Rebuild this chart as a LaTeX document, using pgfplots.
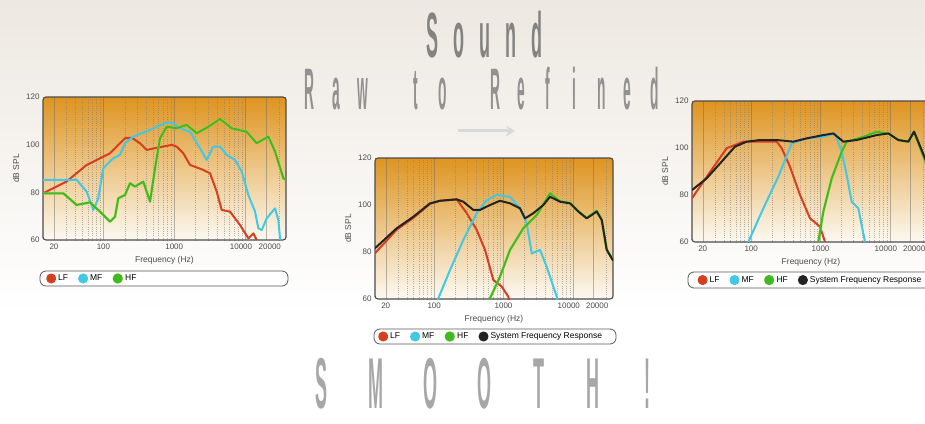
\documentclass[border=0pt]{standalone}
\usepackage{pgfplots}
\pgfplotsset{compat=1.18}
\usepackage{fontspec}
\setmainfont{Liberation Sans}
\usepackage{graphicx}
\usetikzlibrary{arrows.meta}

\definecolor{lfred}{RGB}{214,62,32}
\definecolor{mfcyan}{RGB}{64,200,228}
\definecolor{hfgreen}{RGB}{62,186,40}
\definecolor{sysblk}{RGB}{35,35,35}
\definecolor{bgtop}{RGB}{222,148,32}
\definecolor{bgmid}{RGB}{242,205,130}
\definecolor{bgbot}{RGB}{252,249,242}
\definecolor{paper}{RGB}{237,232,225}
\definecolor{ttl}{RGB}{145,145,145}

% letters on a fixed pitch, as in the poster lettering
\makeatletter
\newcommand\pitch[2]{\@tfor\lt@c:=#2\do{\makebox[#1]{\lt@c}}}
\makeatother
% nudge a tick label sideways
\newcommand\nudge[2]{\makebox[0pt]{\hspace*{#1}#2}}

\pgfplotsset{every axis/.append style={
    scale only axis,
    xmode=log, xmin=14, xmax=38000, ymin=60, ymax=120,
    xtick={20,100,1000,10000,20000},
    xticklabels={20,100,1000,\nudge{-8pt}{10000},\nudge{7pt}{20000}},
    minor xtick={30,40,50,60,70,80,90,200,300,400,500,600,700,800,900,
      2000,3000,4000,5000,6000,7000,8000,9000,30000},
    ytick={60,80,100,120},
    major tick length=0pt, minor tick length=0pt,
    xmajorgrids, xminorgrids,
    major grid style={black!60, thin, opacity=0.45},
    minor grid style={black!50, very thin, dotted, opacity=0.6},
    axis background/.style={top color=bgtop, middle color=bgmid, bottom color=bgbot},
    axis line style={draw=black!70, line width=1.1pt, rounded corners=3pt},
    tick label style={font=\fontsize{8}{9}\selectfont, text=black!70},
    /pgf/number format/assume math mode=true,
    xlabel={Frequency (Hz)}, ylabel={dB SPL},
    label style={font=\fontsize{8.5}{10}\selectfont, text=black!70},
    legend style={draw=none, fill=none, anchor=west,
      font=\fontsize{8.5}{10}\selectfont, legend columns=-1,
      /tikz/every even column/.append style={column sep=8pt}},
    legend image code/.code={\fill (3pt,0pt) circle (4pt);},
  },
  every axis plot/.append style={line width=2pt, line join=round},
}
\tikzset{hfline/.style={color=hfgreen, preaction={draw=yellow!70!hfgreen, line width=2.8pt, opacity=0.5}}}

\begin{document}
\begin{tikzpicture}[x=1pt,y=1pt]
\useasboundingbox (0,0) rectangle (925,423);
\clip (0,0) rectangle (925,423);
\shade[top color=paper, bottom color=white] (0,423) rectangle (925,110);
\fill[white] (0,0) rectangle (925,111);

% titles
\node[anchor=base, text=ttl!90!black] at (485,365)
  {\scalebox{0.45}[1.6]{\fontsize{40}{40}\selectfont\bfseries\pitch{57.8pt}{Sound}}};
\node[anchor=base, text=ttl] at (482,313)
  {\scalebox{0.46}[1.95]{\fontsize{30}{30}\selectfont\bfseries\pitch{57.6pt}{Raw{\ }to{\ }Refined}}};
\node[anchor=base, inner sep=0pt, text=ttl!80!white] at (484.5,15)
  {\scalebox{0.45}[1.8]{\fontsize{40}{40}\selectfont\bfseries\pitch{121pt}{SMOOTH!}}};
\draw[line width=3pt, white!85!black, -{Stealth[length=9pt,width=11pt]}] (458,292) -- (515,292);

% legend frames
\draw[black!65, line width=0.8pt, fill=white, rounded corners=6pt] (40,137) rectangle (288,152);
\draw[black!65, line width=0.8pt, fill=white, rounded corners=6pt] (374,79) rectangle (616,94);
\draw[black!65, line width=0.8pt, fill=white, rounded corners=6pt] (688,135) rectangle (935,151);

% raw drivers
\begin{axis}[at={(43pt,183pt)}, anchor=south west, width=243pt, height=143pt,
    legend style={at={(0.0,-0.269)}}]
\addplot[color=lfred] coordinates {(14,79.6) (30,84.5) (58,91.5) (124,96.4) (202,102.7)
  (251,102.9) (329,100.6) (409,97.8) (566,98.7) (922,99.9) (1086,99.2) (1345,96.4)
  (1673,91.5) (2579,89.4) (3208,88) (3990,80.3) (4693,72.6) (6149,71.9) (8513,66.3)
  (11155,60.7) (13130,62.8) (14660,60) (15500,58)};
\addplot[color=mfcyan] coordinates {(14,85.2) (41.9,85.2) (58,80.3) (71.9,72.6) (84.6,77.5)
  (99.6,90.1) (137.9,94.3) (171.5,95.7) (201.8,100.6) (264.4,103.4) (455.3,106.2)
  (784,109.4) (971,109) (1208,106.9) (1673,105.4) (2317,98.5) (2881,93.6) (3572,99.2)
  (4441,99.2) (5523,95.7) (7236,93.6) (9001,88.7) (11155,78.9) (13875,71.9) (15445,64.9)
  (17250,64.2) (20300,69.1) (26590,73.3) (29610,68.4) (31290,60.7) (31800,58)};
\addplot[hfline] coordinates {(14,79.6) (27.1,79.6) (41.9,74.7) (64.6,75.8) (89.4,71.9)
  (123.9,67.7) (145.8,69.8) (162.3,77.5) (201.8,78.9) (237.5,83.8) (279.5,82.4)
  (366,84.5) (455.3,76.1) (535.6,90.1) (630.3,102.7) (784,107.5) (1086,106.9)
  (1503,108.3) (2081,104.8) (3035,107.5) (4441,110.8) (6501,106.9) (10590,105.4)
  (14660,100.6) (21390,103.4) (26590,97.1) (34850,85.9) (38000,85.2)};
\legend{LF,MF,HF}
\end{axis}

% crossover, middle
\begin{axis}[at={(375pt,124pt)}, anchor=south west, width=238pt, height=141pt,
    legend style={at={(0.0,-0.266)}}]
\addplot[color=lfred] coordinates {(14,79.5) (28.8,89.5) (50,94.5) (87,100.5) (121.3,101.8)
  (211.3,102.4) (294.6,96.5) (410.6,89.4) (541,80.9) (712.6,68.1) (942.2,65.3)
  (1173,61) (1250,58)};
\addplot[color=mfcyan] coordinates {(110,58) (114.7,60.3) (169.1,72.3) (263.1,85.1)
  (410.6,96.5) (572.4,102.1) (798,104.3) (1241,103.5) (1730,98.6) (2161,92.2)
  (2553,79.4) (3363,80.9) (4202,73.7) (5857,61) (6100,58)};
\addplot[hfline] coordinates {(620,58) (638.8,60.3) (890.3,69.5) (1241,80.9) (1931,90.1)
  (3014,95.7) (4688,105) (6537,101.6) (9111,100.9) (12000,97.4) (15870,94.5)
  (22120,97.6) (26120,93.8) (30840,81.1) (38000,76.6)};
\addplot[color=sysblk] coordinates {(14,81.6) (28.8,90.1) (50,95) (87,100.7) (121.3,101.8)
  (211.3,102.4) (263.1,101.4) (366.7,97.9) (458.2,97.9) (638.8,100) (890.3,101.8)
  (1241,100.7) (1730,98.6) (2043,94.3) (2692,96.5) (3752,100) (4688,103.5) (6537,101.4)
  (9111,100.7) (12000,97.2) (15870,94.3) (22120,97.2) (26120,93.6) (30840,80.9)
  (37640,76.6) (38000,76.4)};
\legend{LF,MF,HF,System Frequency Response}
\end{axis}

% crossover, right
\begin{axis}[at={(692pt,181pt)}, anchor=south west, width=238pt, height=141pt,
    legend style={at={(0.01,-0.27)}}]
\addplot[color=lfred] coordinates {(14,78.6) (20.4,85.7) (44.3,99.9) (76.9,102.7)
  (233.4,102.7) (275.6,99.9) (363.1,92) (506.1,80) (705.6,70.1) (983.8,66.5)
  (1161,60) (1200,58)};
\addplot[color=mfcyan] coordinates {(85,58) (90.9,60) (149.6,74.3) (246.2,87.8)
  (384.2,102) (632.4,104.1) (1098,104.8) (1619,106.2) (2023,98.4) (2388,88.5)
  (2820,77.1) (3512,74.3) (4387,60) (4500,58)};
\addplot[hfline] coordinates {(880,58) (929.5,60) (1098,72.9) (1451,87.1) (2023,98.4)
  (2388,102.7) (4146,104.8) (6471,106.9) (9513,106.2) (13270,103.4) (18490,102.7)
  (22350,106.8) (32190,94.5) (38000,89)};
\addplot[color=sysblk] coordinates {(14,82.1) (22.8,87.1) (37.5,94.2) (58.4,100.6)
  (86.2,102.7) (134.1,103.4) (233.4,103.4) (405.2,102.7) (632.4,104.1) (1098,105.5)
  (1530,106.2) (2134,102.7) (3330,103.4) (6471,105.5) (9513,106.2) (13270,103.4)
  (18490,102.7) (22350,107) (32190,95.7) (38000,91)};
\legend{LF,MF,HF,System Frequency Response}
\end{axis}
\end{tikzpicture}
\end{document}
